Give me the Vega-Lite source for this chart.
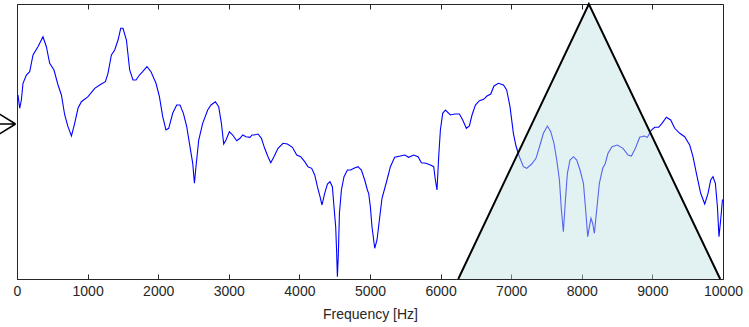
{
  "$schema": "https://vega.github.io/schema/vega-lite/v6.json",
  "autosize": {"type": "none"},
  "width": 706,
  "height": 275,
  "padding": {"left": 17, "top": 4, "right": 26, "bottom": 48},
  "background": "white",
  "config": {"view": {"stroke": "#262626", "strokeWidth": 1}},
  "datasets": {
    "spectrum": [
      {"f":14,"a":184},{"f":38,"a":170.7},{"f":62,"a":179},{"f":85,"a":195.7},{"f":133,"a":204},{"f":180,"a":207.3},{"f":227,"a":224},{"f":297,"a":232.3},{"f":368,"a":242.3},{"f":416,"a":232.3},{"f":463,"a":215.7},{"f":524,"a":209},{"f":581,"a":194},{"f":629,"a":184},{"f":676,"a":164},{"f":722,"a":152.3},{"f":771,"a":143},{"f":817,"a":155.7},{"f":864,"a":170.7},{"f":912,"a":177.3},{"f":1006,"a":182.3},{"f":1101,"a":190.7},{"f":1171,"a":194},{"f":1252,"a":197.3},{"f":1289,"a":205.7},{"f":1337,"a":224},{"f":1384,"a":229},{"f":1431,"a":239},{"f":1469,"a":250.7},{"f":1501,"a":250.7},{"f":1550,"a":239},{"f":1596,"a":209},{"f":1643,"a":199},{"f":1686,"a":199},{"f":1734,"a":204},{"f":1780,"a":207.3},{"f":1841,"a":212.3},{"f":1898,"a":207.3},{"f":1969,"a":195.7},{"f":2017,"a":182.3},{"f":2064,"a":162.3},{"f":2110,"a":149},{"f":2149,"a":150.7},{"f":2205,"a":165.7},{"f":2262,"a":174},{"f":2309,"a":174},{"f":2357,"a":165.7},{"f":2404,"a":152.3},{"f":2450,"a":132.3},{"f":2489,"a":115.7},{"f":2513,"a":95.7},{"f":2535,"a":112.3},{"f":2574,"a":139},{"f":2630,"a":155.7},{"f":2701,"a":169},{"f":2748,"a":174},{"f":2810,"a":177.3},{"f":2857,"a":172.3},{"f":2895,"a":155.7},{"f":2928,"a":135},{"f":2960,"a":139},{"f":3008,"a":147.3},{"f":3055,"a":144},{"f":3112,"a":138.3},{"f":3159,"a":140.7},{"f":3197,"a":144},{"f":3244,"a":142.3},{"f":3300,"a":141.7},{"f":3329,"a":144},{"f":3357,"a":144},{"f":3414,"a":145},{"f":3462,"a":140.7},{"f":3508,"a":130.7},{"f":3555,"a":122.3},{"f":3594,"a":116.3},{"f":3640,"a":122.3},{"f":3697,"a":130.7},{"f":3768,"a":135.7},{"f":3830,"a":135},{"f":3901,"a":131.7},{"f":3962,"a":124},{"f":4018,"a":122.3},{"f":4075,"a":117.3},{"f":4122,"a":112.3},{"f":4174,"a":110.7},{"f":4217,"a":104},{"f":4255,"a":92.3},{"f":4292,"a":82.3},{"f":4320,"a":74},{"f":4358,"a":85.7},{"f":4397,"a":95},{"f":4433,"a":97.3},{"f":4467,"a":92.3},{"f":4490,"a":72.3},{"f":4514,"a":52.3},{"f":4528,"a":25.7},{"f":4538,"a":2.3},{"f":4552,"a":25.7},{"f":4567,"a":65.7},{"f":4595,"a":89},{"f":4632,"a":102.3},{"f":4680,"a":109},{"f":4727,"a":109},{"f":4773,"a":110.7},{"f":4830,"a":112.3},{"f":4878,"a":109},{"f":4925,"a":99},{"f":4963,"a":89},{"f":4981,"a":85.7},{"f":5005,"a":72.3},{"f":5028,"a":52.3},{"f":5067,"a":30.7},{"f":5099,"a":39},{"f":5133,"a":59},{"f":5170,"a":80.7},{"f":5241,"a":99},{"f":5289,"a":112.3},{"f":5350,"a":121.7},{"f":5431,"a":123},{"f":5492,"a":124},{"f":5548,"a":121.7},{"f":5619,"a":124},{"f":5680,"a":122.3},{"f":5728,"a":116.3},{"f":5793,"a":115.7},{"f":5856,"a":114},{"f":5902,"a":112.3},{"f":5926,"a":99},{"f":5949,"a":89},{"f":5973,"a":122.3},{"f":5997,"a":149},{"f":6030,"a":165.7},{"f":6068,"a":169},{"f":6139,"a":164},{"f":6200,"a":165},{"f":6266,"a":165},{"f":6313,"a":159},{"f":6365,"a":150.7},{"f":6408,"a":153},{"f":6445,"a":164},{"f":6493,"a":174},{"f":6550,"a":178.3},{"f":6610,"a":179.7},{"f":6657,"a":183},{"f":6710,"a":185},{"f":6756,"a":193},{"f":6819,"a":195.7},{"f":6890,"a":194},{"f":6936,"a":189},{"f":6983,"a":172.3},{"f":7031,"a":145.7},{"f":7068,"a":133},{"f":7116,"a":122.3},{"f":7173,"a":112.3},{"f":7220,"a":110.7},{"f":7290,"a":115},{"f":7351,"a":120.7},{"f":7408,"a":134},{"f":7456,"a":145.7},{"f":7513,"a":153},{"f":7560,"a":147.3},{"f":7606,"a":135.7},{"f":7645,"a":119},{"f":7683,"a":99},{"f":7711,"a":69},{"f":7739,"a":47.3},{"f":7768,"a":79},{"f":7796,"a":105.7},{"f":7833,"a":119},{"f":7881,"a":122.3},{"f":7928,"a":119},{"f":7975,"a":109},{"f":8023,"a":95.7},{"f":8051,"a":72.3},{"f":8084,"a":42.3},{"f":8108,"a":52.3},{"f":8130,"a":60.7},{"f":8154,"a":55.7},{"f":8178,"a":45.7},{"f":8211,"a":69},{"f":8249,"a":95.7},{"f":8296,"a":110.7},{"f":8330,"a":115},{"f":8371,"a":125.7},{"f":8428,"a":132.3},{"f":8504,"a":134},{"f":8584,"a":130.7},{"f":8655,"a":124},{"f":8703,"a":123},{"f":8759,"a":130.7},{"f":8820,"a":141.7},{"f":8881,"a":143},{"f":8929,"a":141.7},{"f":8986,"a":149},{"f":9033,"a":151.7},{"f":9089,"a":151.7},{"f":9136,"a":155.7},{"f":9198,"a":161.7},{"f":9259,"a":159},{"f":9316,"a":150.7},{"f":9387,"a":145.7},{"f":9457,"a":142.3},{"f":9528,"a":134},{"f":9575,"a":122.3},{"f":9623,"a":105.7},{"f":9684,"a":85.7},{"f":9741,"a":75},{"f":9788,"a":85.7},{"f":9826,"a":99},{"f":9858,"a":102.3},{"f":9892,"a":95.7},{"f":9921,"a":72.3},{"f":9943,"a":42.3},{"f":9967,"a":59},{"f":9992,"a":79},{"f":10000,"a":79}
    ],
    "triangle": [
      {"f":6250,"a":0,"o":0},{"f":8100,"a":275,"o":1},{"f":9960,"a":0,"o":2}
    ],
    "arrow": [
      {"f":-20,"a":155}
    ]
  },
  "layer": [
    {
      "layer": [
        {
          "data": {"name": "spectrum"},
          "mark": {"type": "line", "color": "#0000ff", "strokeWidth": 1.1},
          "encoding": {
            "x": {"field": "f", "type": "quantitative", "scale": {"domain": [0, 10000], "nice": false, "zero": false},
              "axis": {"orient": "bottom", "title": "Frequency [Hz]", "values": [0,1000,2000,3000,4000,5000,6000,7000,8000,9000,10000], "format": "d", "grid": false,
                "labelFlush": false, "labelOverlap": false,
                "labelFont": "Liberation Sans", "labelFontSize": 14, "labelColor": "#262626", "labelPadding": 10,
                "tickColor": "#262626", "tickSize": -5, "domainColor": "#262626",
                "titleFont": "Liberation Sans", "titleFontSize": 14, "titleFontWeight": "normal", "titleColor": "#262626", "titlePadding": 9}},
            "y": {"field": "a", "type": "quantitative", "scale": {"domain": [0, 275], "nice": false, "zero": false}, "axis": null}
          }
        },
        {
          "data": {"name": "triangle"},
          "mark": {"type": "area", "color": "#bfdfdf", "opacity": 0.45},
          "encoding": {
            "x": {"field": "f", "type": "quantitative"},
            "y": {"field": "a", "type": "quantitative"}
          }
        },
        {
          "data": {"name": "triangle"},
          "mark": {"type": "line", "color": "black", "strokeWidth": 2},
          "encoding": {
            "x": {"field": "f", "type": "quantitative"},
            "y": {"field": "a", "type": "quantitative"},
            "order": {"field": "o"}
          }
        },
        {
          "data": {"name": "arrow"},
          "mark": {"type": "point", "shape": "M0,0L-1,-0.62M0,0L-1,0.62M0,0L-1.3,0", "filled": false, "stroke": "black", "strokeWidth": 1.5, "size": 1024, "opacity": 1},
          "encoding": {
            "x": {"field": "f", "type": "quantitative"},
            "y": {"field": "a", "type": "quantitative"}
          }
        }
      ]
    },
    {
      "data": {"name": "triangle"},
      "mark": {"type": "area", "opacity": 0},
      "encoding": {
        "x": {"field": "f", "type": "quantitative", "scale": {"domain": [0, 10000], "nice": false, "zero": false},
          "axis": {"orient": "top", "labels": false, "title": null, "values": [0,1000,2000,3000,4000,5000,6000,7000,8000,9000,10000], "grid": false, "tickColor": "#262626", "tickSize": -5, "domain": false}},
        "y": {"field": "a", "type": "quantitative"}
      }
    }
  ],
  "resolve": {"scale": {"x": "independent"}, "axis": {"x": "independent"}}
}
